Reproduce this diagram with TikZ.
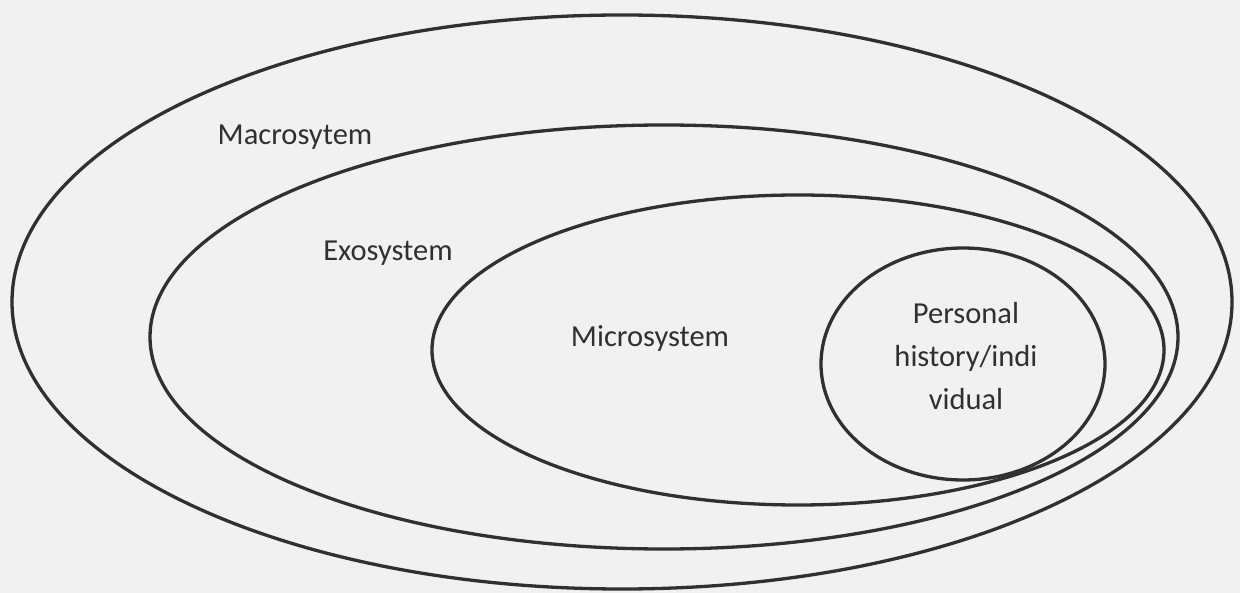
\documentclass[tikz,border=0pt]{standalone}
\usepackage{fontspec}
\setmainfont{Carlito}
\usepackage{xcolor}
\definecolor{paper}{RGB}{241,241,241}
\definecolor{ink}{RGB}{48,48,48}

\begin{document}
\begin{tikzpicture}[x=1pt,y=-1pt,
    ring/.style={draw=ink,line width=3.3pt},
    lbl/.style={text=ink,font={\fontsize{30.5}{43}\selectfont},inner sep=0pt}]
    \fill[paper] (0,0) rectangle (1240,593);
    \useasboundingbox (0,0) rectangle (1240,593);
    \draw[ring] (622,302) ellipse [x radius=610pt,y radius=287pt];
    \draw[ring] (664,337) ellipse [x radius=514pt,y radius=212pt];
    \draw[ring] (798,350) ellipse [x radius=366pt,y radius=155pt];
    \draw[ring] (963,364) ellipse [x radius=142pt,y radius=116pt];
    \node[lbl,anchor=base] (macro) at (295,145) {Macrosytem};
    \node[lbl,anchor=base] (exo) at (388,261) {Exosystem};
    \node[lbl,anchor=base] (micro) at (650,347) {Microsystem};
    \node[lbl,align=center] (person) at (966,356)
      {Personal\\history/indi\\vidual};
  \end{tikzpicture}
\end{document}
